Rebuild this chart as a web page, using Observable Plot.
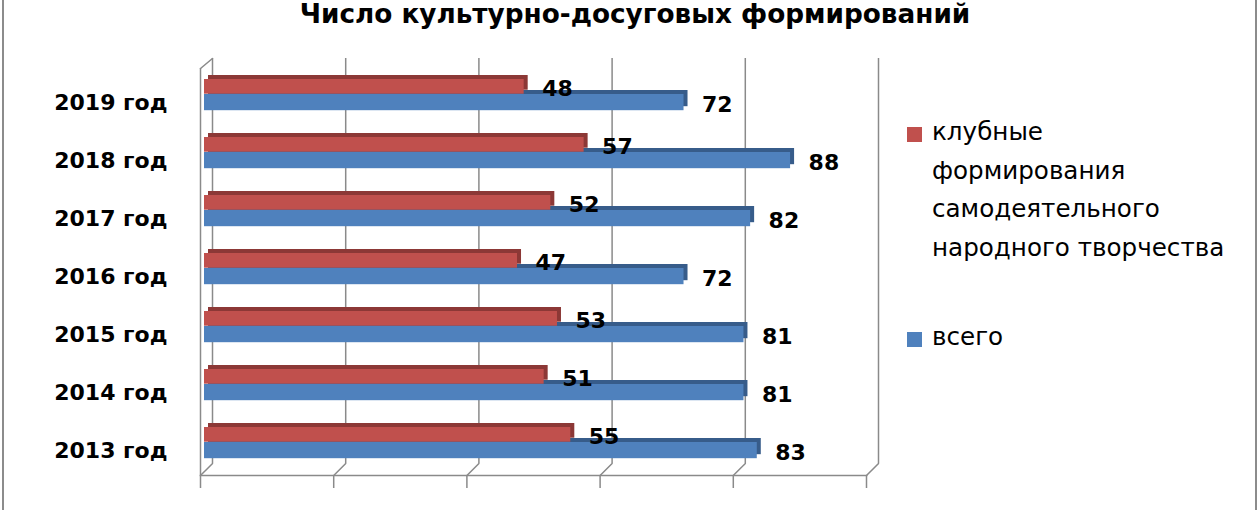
<!DOCTYPE html>
<html><head><meta charset="utf-8">
<script src="https://cdn.jsdelivr.net/npm/d3@7"></script>
<script src="https://cdn.jsdelivr.net/npm/@observablehq/plot@0.6"></script>
<style>
body{margin:0;background:#fff}
#wrap{position:relative;width:1260px;height:510px;overflow:hidden;background:#fff;font-family:"DejaVu Sans",sans-serif;color:#000}
#title{position:absolute;left:0;width:1270px;top:1px;text-align:center;font-weight:bold;font-size:26.3px;line-height:27px;white-space:nowrap}
#chart{position:absolute;left:0;top:0}
#legend{position:absolute;left:907px;top:113px;font-size:24.6px;line-height:38.5px;white-space:nowrap}
.item{position:relative;padding-left:25px}
.sw{position:absolute;left:0;width:15px;height:15px}
.bl,.br{position:absolute;top:0;width:2px;height:510px;background:#8c8c8c}
.bl{left:2px}.br{left:1255px}
</style></head><body>
<div id="wrap">
  <div id="title"></div>
  <div id="chart"></div>
  <div id="legend"></div>
  <div class="bl"></div><div class="br"></div>
</div>
<script>
const titleText = "Число культурно-досуговых формирований";
const years = ["2019 год","2018 год","2017 год","2016 год","2015 год","2014 год","2013 год"];
const club  = [48,57,52,47,53,51,55];
const total = [72,88,82,72,81,81,83];
const clubLabelLines = ["клубные","формирования","самодеятельного","народного творчества"];
const totalLabel = "всего";
const gridTicks = [0,20,40,60,80,100];

const rows = years.map((y,i)=>({year:y, club:club[i], total:total[i]}));

const grey = "#8a8a8a";
const redFace="#C0504D", redSide="#8C3836", blueFace="#4F81BD", blueSide="#375C8A";
const lineShape = {draw(ctx, l){ ctx.moveTo(0,0); ctx.lineTo(0,-l); }};

document.getElementById("title").textContent = titleText;

const chart = Plot.plot({
  width: 900, height: 510,
  marginLeft: 200, marginRight: 34, marginTop: 64, marginBottom: 35,
  style: {fontFamily: "DejaVu Sans", background: "transparent", overflow: "visible"},
  x: {domain: [0,100], label: null},
  y: {type: "band", domain: years, range: [64, 472.1], padding: 0, label: null},
  marks: [
    Plot.ruleX(gridTicks, {dx: 12, dy: -12, insetTop: 6, stroke: grey, strokeWidth: 1.5}),
    Plot.ruleX([0], {insetTop: 4, stroke: grey, strokeWidth: 1.5}),
    Plot.vector([0], {x: d=>d, frameAnchor: "top", dy: 4, anchor: "start", rotate: 50, length: 15.6, shape: lineShape, stroke: grey, strokeWidth: 1.5}),
    Plot.frame({anchor: "bottom", stroke: grey, strokeWidth: 1.5}),
    Plot.vector(gridTicks, {x: d=>d, frameAnchor: "bottom", anchor: "start", rotate: 45, length: 17, shape: lineShape, stroke: grey, strokeWidth: 1.5}),
    Plot.axisX({ticks: gridTicks, tickSize: 13, tickFormat: () => "", stroke: grey, strokeWidth: 1.5, label: null}),
    Plot.axisY({tickSize: 0, tickPadding: 33, fontSize: 22, fontWeight: "bold", fill: "#000", dy: 8, label: null}),
    // blue shadow (top + side faces)
    Plot.barX(rows, {x: "total", y: "year", fill: blueSide, insetTop: 29, insetBottom: 12.8, dx: 8, dy: -4}),
    // red shadow
    Plot.barX(rows, {x: "club", y: "year", fill: redSide, insetTop: 14, insetBottom: 29.3, dx: 8, dy: -4}),
    // red face
    Plot.barX(rows, {x: "club", y: "year", fill: redFace, insetTop: 14, insetBottom: 29.3, dx: 4}),
    // blue face
    Plot.barX(rows, {x: "total", y: "year", fill: blueFace, insetTop: 29, insetBottom: 12.8, dx: 4}),
    Plot.text(rows, {x: "club", y: "year", text: d => String(d.club), textAnchor: "start", dx: 22, dy: -5.5, fontSize: 22, fontWeight: "bold", fill: "#000"}),
    Plot.text(rows, {x: "total", y: "year", text: d => String(d.total), textAnchor: "start", dx: 22, dy: 10, fontSize: 22, fontWeight: "bold", fill: "#000"})
  ]
});
document.getElementById("chart").appendChild(chart);

const legend = document.getElementById("legend");
const items = [
  {color: redFace, lines: clubLabelLines},
  {color: blueFace, lines: [totalLabel]}
];
items.forEach((it, k) => {
  const div = document.createElement("div");
  div.className = "item";
  if (k > 0) div.style.marginTop = "51px";
  const sw = document.createElement("span");
  sw.className = "sw";
  sw.style.background = it.color;
  sw.style.top = "14px";
  div.appendChild(sw);
  it.lines.forEach(t => { const l = document.createElement("div"); l.textContent = t; div.appendChild(l); });
  legend.appendChild(div);
});
</script>
</body></html>
